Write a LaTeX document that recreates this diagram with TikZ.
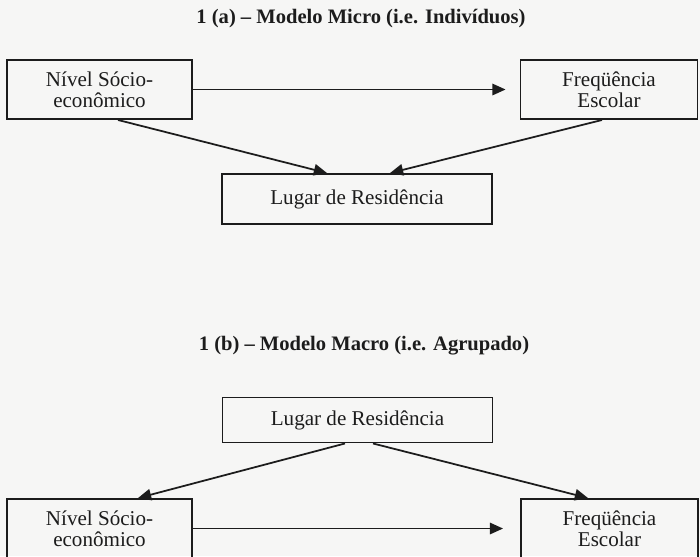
\documentclass[tikz,border=0pt]{standalone}
\usepackage{fontspec}
\setmainfont{Liberation Serif}
\usetikzlibrary{arrows.meta,positioning}
\definecolor{scanPaper}{RGB}{246, 246, 245}
\definecolor{scanInk}{RGB}{28, 28, 28}

\begin{document}
\begin{tikzpicture}[
  x=0.02cm, y=-0.02cm,
  modelbox/.style={
    draw=scanInk,
    line width=1.1pt,
    minimum width=3.7cm,
    minimum height=1.18cm,
    align=center,
    text=scanInk,
    font=\fontsize{12}{12}\selectfont
  },
  placebox/.style={
    modelbox,
    minimum width=5.4cm
  },
  modeltitle/.style={
    text=scanInk,
    font=\fontsize{11.7}{13}\selectfont\bfseries
  },
  link/.style={
    draw=scanInk,
    line width=1pt,
    -{Triangle[length=7.5pt,width=6.5pt]}
  }
]
  \fill[scanPaper] (0,0) rectangle (700,556);
  \useasboundingbox (0,0) rectangle (700,556);

  % 1 (a) micro model
  \node[modeltitle] (titleA) at (361,19) {1 (a) -- Modelo Micro (i.e. Indivíduos)};
  \node[modelbox] (socioA) at (99.5,89.5) {Nível Sócio-\\econômico};
  \node[modelbox,minimum width=3.54cm] (freqA) at (609,89.5) {Freqüência\\Escolar};
  \node[placebox,minimum height=1.0cm] (lugarA) at (357,199) {Lugar de Residência};

  \draw[link,shorten >=0.28cm] (socioA) -- (freqA);
  \draw[link] ([xshift=0.37cm]socioA.south) -- ([xshift=-0.6cm]lugarA.north);
  \draw[link] ([xshift=-0.14cm]freqA.south) -- ([xshift=0.66cm]lugarA.north);

  % 1 (b) macro model
  \node[modeltitle] (titleB) at (364,346) {1 (b) -- Modelo Macro (i.e. Agrupado)};
  \node[placebox,minimum height=0.9cm] (lugarB) at (357.5,420) {Lugar de Residência};
  \node[modelbox] (socioB) at (99.5,528.5) {Nível Sócio-\\econômico};
  \node[modelbox,minimum width=3.54cm] (freqB) at (609.5,528.5) {Freqüência\\Escolar};

  \draw[link] ([xshift=-0.25cm]lugarB.south) -- ([xshift=0.77cm]socioB.north);
  \draw[link] ([xshift=0.31cm]lugarB.south) -- ([xshift=-0.43cm]freqB.north);
  \draw[link,shorten >=0.34cm] (socioB) -- (freqB);
\end{tikzpicture}
\end{document}
